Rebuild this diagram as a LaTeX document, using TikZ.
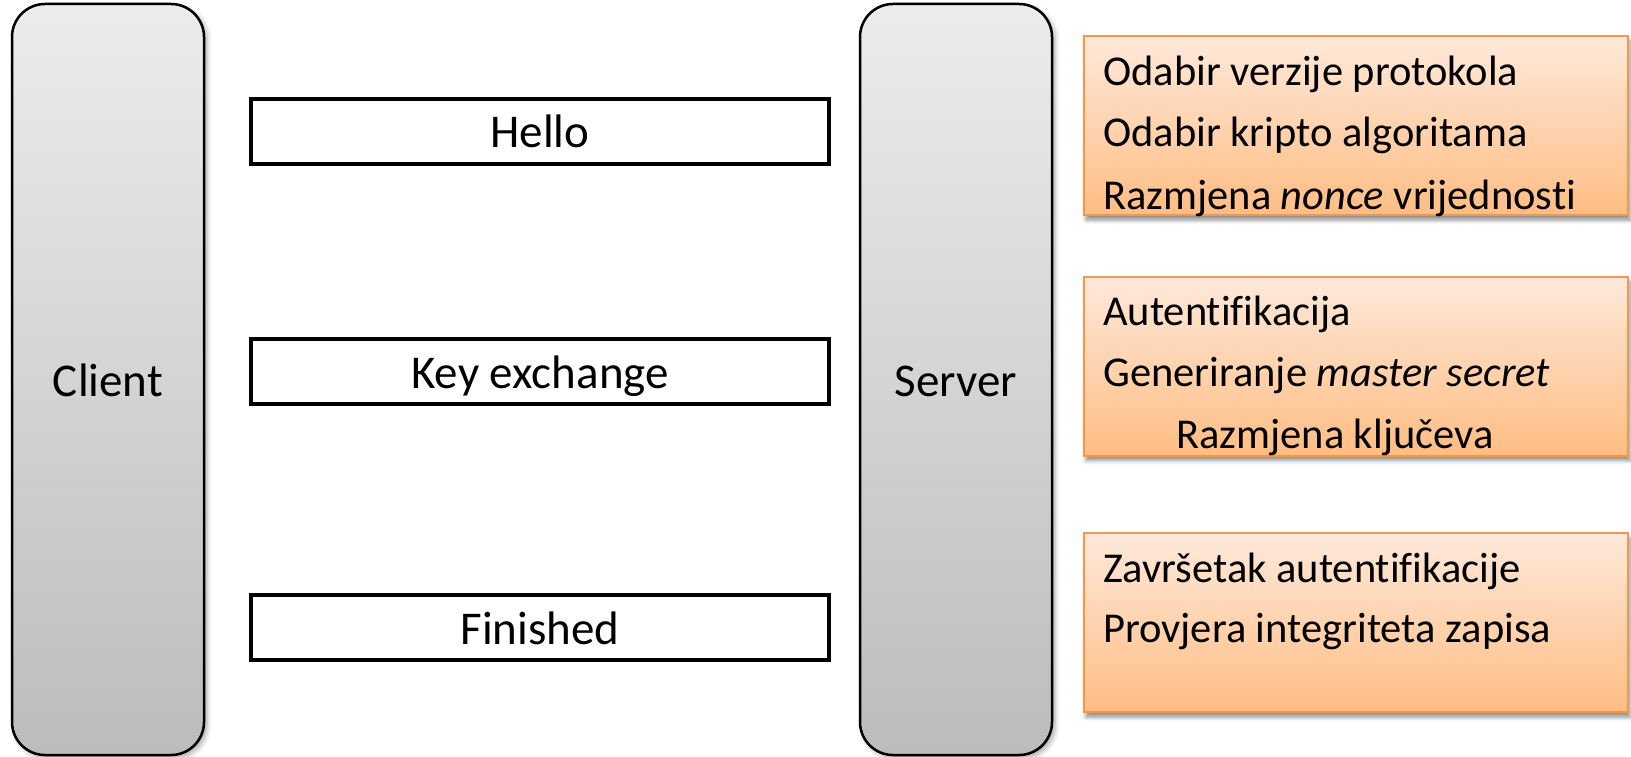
\documentclass[tikz,border=0pt]{standalone}
\usepackage{fontspec}
\setmainfont{Carlito}[Ligatures=NoCommon]
\usetikzlibrary{shadows.blur}

\definecolor{pillartop}{HTML}{ECECEC}
\definecolor{pillarbot}{HTML}{BCBCBC}
\definecolor{infotop}{HTML}{FFE9DA}
\definecolor{infobot}{HTML}{FFBD84}
\definecolor{infoedge}{HTML}{F79646}

\tikzset{
  pillar/.style={draw=black, line width=2.5pt, rounded corners=33pt,
    top color=pillartop, bottom color=pillarbot,
    minimum width=192pt, minimum height=751pt, inner sep=0pt,
    font=\fontsize{47}{56}\selectfont, text height=33pt, text depth=0pt,
    blur shadow={shadow xshift=3pt, shadow yshift=-3pt, shadow blur radius=5pt, shadow opacity=35}},
  msg/.style={draw=black, line width=4.5pt, fill=white,
    minimum width=578pt, minimum height=65pt, inner sep=0pt,
    font=\fontsize{47}{56}\selectfont, text height=38pt, text depth=5pt},
  infobox/.style={draw=infoedge, line width=2pt,
    top color=infotop, bottom color=infobot,
    minimum width=544pt, minimum height=179pt, inner sep=0pt,
    blur shadow={shadow xshift=2pt, shadow yshift=-5pt, shadow blur radius=4pt, shadow opacity=45}},
  infotext/.style={anchor=base west, inner sep=0pt, font=\fontsize{42.5}{50}\selectfont}
}

\begin{document}
\begin{tikzpicture}[x=1pt, y=-1pt]
  \useasboundingbox (0,0) rectangle (1631,757);

  % the two end points of the handshake
  \node[pillar] (client) at (108,379.5) {Client};
  \node[pillar] (server) at (956,379.5) {Server};

  % handshake messages
  \node[msg] (hello)    at (540,131.5) {Hello};
  \node[msg] (keyex)    at (540,371.5) {Key exchange};
  \node[msg] (finished) at (540,627.5) {Finished};

  % descriptions of each phase
  \node[infobox] (info1) at (1356,125.5) {};
  \node[infobox] (info2) at (1356,366)   {};
  \node[infobox] (info3) at (1356,622.5) {};

  \node[infotext] (i1a) at (1103,86)  {Odabir verzije protokola};
  \node[infotext] (i1b) at (1103,147) {Odabir kripto algoritama};
  \node[infotext] (i1c) at (1103,209) {Razmjena \emph{nonce} vrijednosti};

  \node[infotext] (i2a) at (1103,325) {Autentifikacija};
  \node[infotext] (i2b) at (1103,386) {Generiranje \emph{master secret}};
  \node[infotext] (i2c) at (1176,448) {Razmjena ključeva};

  \node[infotext] (i3a) at (1103,582) {Završetak autentifikacije};
  \node[infotext] (i3b) at (1103,642) {Provjera integriteta zapisa};
\end{tikzpicture}
\end{document}
